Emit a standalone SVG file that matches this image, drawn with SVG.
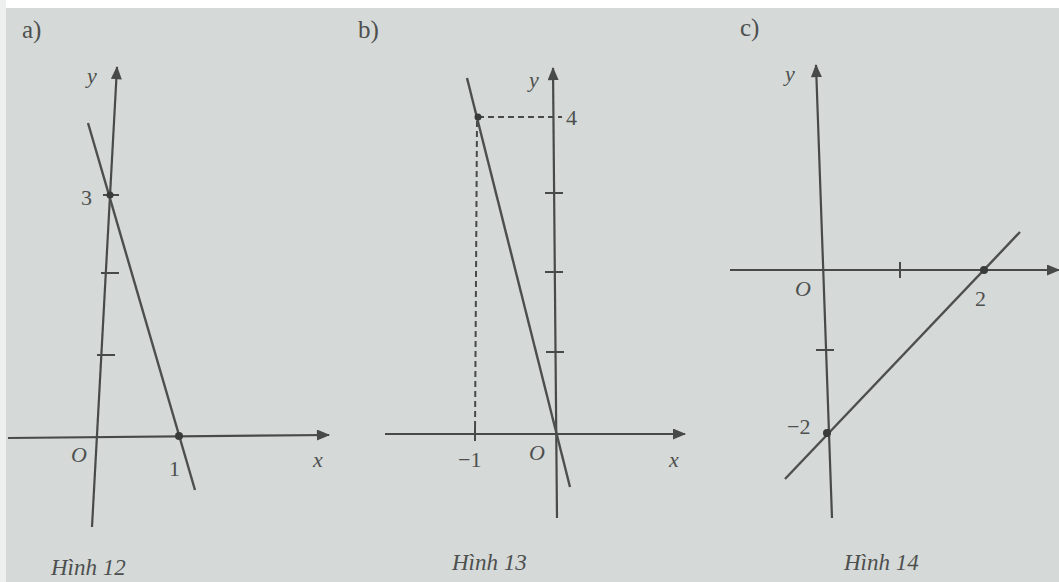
<svg xmlns="http://www.w3.org/2000/svg" width="1059" height="582" viewBox="0 0 1059 582">
<style>
.ax{stroke:#474a49;stroke-width:2.2;fill:none}
.ln{stroke:#4c4f4e;stroke-width:2.4;fill:none}
.tk{stroke:#474a49;stroke-width:2}
.ds{stroke:#474a49;stroke-width:2;stroke-dasharray:6,4;fill:none}
.t{font-family:"Liberation Serif",serif;font-size:22px;fill:#4d504f}
.h{font-family:"Liberation Serif",serif;font-size:25px;fill:#4d504f}
.i{font-family:"Liberation Serif",serif;font-style:italic;font-size:22px;fill:#4d504f}
.cap{font-family:"Liberation Serif",serif;font-style:italic;font-size:23px;fill:#4d504f}
.pt{fill:#383b3a}
</style>
<defs>
<marker id="arrB" viewBox="0 0 12 10" refX="11" refY="5" markerWidth="14" markerHeight="11" orient="auto" markerUnits="userSpaceOnUse">
<path d="M0,0 L12,5 L0,10 z" fill="#474a49"/>
</marker>
</defs>
<rect width="1059" height="582" fill="#d5d9d7"/>
<rect width="1059" height="8" fill="#ffffff"/>
<rect width="6" height="582" fill="#eef0ef"/>

<g id="graph-a">
<text class="h" x="22" y="38">a)</text>
<line class="ax" x1="8" y1="438" x2="329" y2="435" marker-end="url(#arrB)"/>
<line class="ax" x1="92" y1="527" x2="117" y2="67" marker-end="url(#arrB)"/>
<line class="tk" x1="101" y1="273" x2="119" y2="273"/>
<line class="tk" x1="97" y1="355" x2="115" y2="355"/>
<line class="tk" x1="103" y1="195" x2="119" y2="195"/>
<line class="ln" x1="88" y1="123" x2="195" y2="490"/>
<circle class="pt" cx="110" cy="195" r="3.5"/>
<circle class="pt" cx="179" cy="436" r="4"/>
<text class="i" x="87" y="83">y</text>
<text class="t" x="81" y="205">3</text>
<text class="i" x="71" y="462">O</text>
<text class="t" x="169" y="476">1</text>
<text class="i" x="313" y="467">x</text>
<text class="cap" x="51" y="575">Hình 12</text>
</g>

<g id="graph-b">
<text class="h" x="358" y="38">b)</text>
<line class="ax" x1="385" y1="434" x2="685" y2="434" marker-end="url(#arrB)"/>
<line class="ax" x1="557" y1="518" x2="553" y2="68" marker-end="url(#arrB)"/>
<line class="tk" x1="545" y1="193" x2="563" y2="193"/>
<line class="tk" x1="545" y1="272" x2="563" y2="272"/>
<line class="tk" x1="546" y1="352" x2="564" y2="352"/>
<line class="tk" x1="475" y1="427" x2="475" y2="441"/>
<path class="ds" d="M478,117 H562"/>
<path class="ds" d="M477,121 L475,434"/>
<line class="ln" x1="467" y1="78" x2="570" y2="487"/>
<circle class="pt" cx="478" cy="117" r="3.5"/>
<text class="i" x="529" y="87">y</text>
<text class="t" x="566" y="125">4</text>
<text class="t" x="458" y="467">−1</text>
<text class="i" x="529" y="460">O</text>
<text class="i" x="669" y="467">x</text>
<text class="cap" x="452" y="570">Hình 13</text>
</g>

<g id="graph-c">
<text class="h" x="740" y="36">c)</text>
<line class="ax" x1="730" y1="270" x2="1059" y2="270" marker-end="url(#arrB)"/>
<line class="ax" x1="832" y1="518" x2="816" y2="65" marker-end="url(#arrB)"/>
<line class="tk" x1="900" y1="262" x2="900" y2="278"/>
<line class="tk" x1="816" y1="350" x2="834" y2="350"/>
<line class="ln" x1="1020" y1="232" x2="785" y2="479"/>
<circle class="pt" cx="984" cy="270" r="4"/>
<circle class="pt" cx="827" cy="433" r="4"/>
<text class="i" x="785" y="81">y</text>
<text class="i" x="795" y="296">O</text>
<text class="t" x="975" y="306">2</text>
<text class="t" x="787" y="434">−2</text>
<text class="cap" x="844" y="570">Hình 14</text>
</g>
</svg>
